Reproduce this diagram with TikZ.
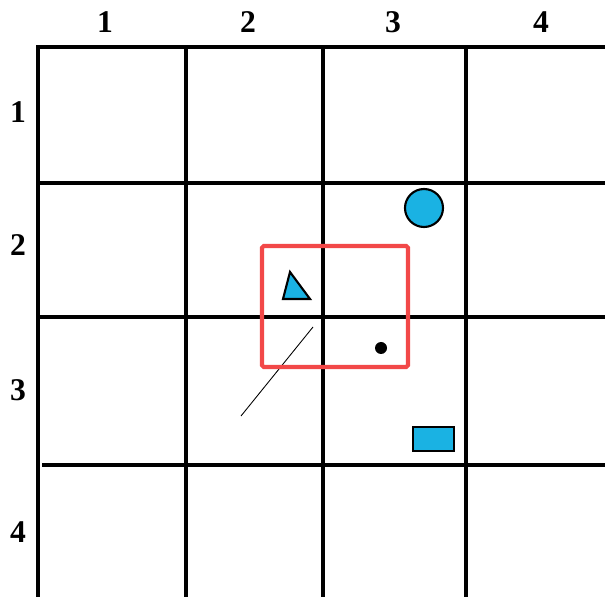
\documentclass[tikz,border=0pt]{standalone}
\usepackage{fontspec}
\setmainfont{Liberation Serif}
\usepackage{tikz}
\usetikzlibrary{positioning}
\definecolor{sky}{HTML}{1AB2E3}
\definecolor{marker}{HTML}{F24848}
\tikzset{
  gridline/.style={draw=black, line width=2pt},
  idx/.style={font=\fontsize{18}{20}\selectfont\bfseries, inner sep=0pt},
  item/.style={draw=black, fill=sky, line width=1.2pt},
  window/.style={draw=marker, line width=2.4pt, rounded corners=1pt},
  trace/.style={draw=black, line width=0.5pt}
}

\begin{document}
\begin{tikzpicture}[x=0.02cm, y=-0.02cm]
  \useasboundingbox (0,0) rectangle (605,597);

  % grid
  \draw[gridline] (38,597) -- (38,47) -- (605,47);
  \foreach \gx in {186,323,466}
    \draw[gridline] (\gx,47) -- (\gx,597);
  \draw[gridline] (38,183) -- (605,183);
  \draw[gridline] (38,317) -- (605,317);
  \draw[gridline] (42,465) -- (605,465);

  % column and row numbers
  \foreach \i/\cx in {1/105,2/248,3/393,4/541}
    \node[idx] (col\i) at (\cx,22) {\i};
  \foreach \i/\ry in {1/112,2/245,3/390,4/532}
    \node[idx] (row\i) at (18,\ry) {\i};

  % objects
  \draw[item] (424,208) circle (19);
  \draw[item] (290,272) -- (283,299) -- (310,299) -- cycle;
  \draw[item] (413,427) rectangle (454,451);
  \fill (381,348) circle (6);
  \draw[trace] (313,327) -- (241,416);

  % selection window
  \draw[window] (262,246) rectangle (408,367);
\end{tikzpicture}
\end{document}
